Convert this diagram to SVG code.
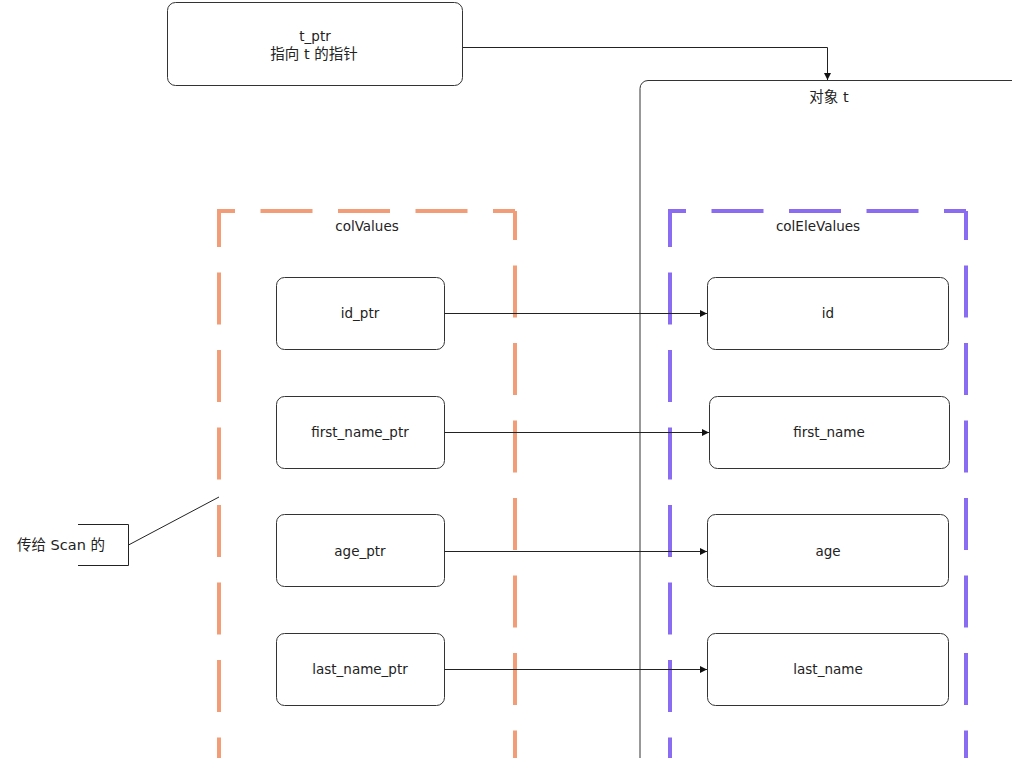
<svg xmlns="http://www.w3.org/2000/svg" width="1012" height="758" viewBox="0 0 1012 758">
<style>
text{font-family:"DejaVu Sans","Noto Sans CJK SC",sans-serif;font-size:13.5px;fill:#222;text-anchor:middle;dominant-baseline:central}
.cjk{font-size:14.5px}
.box{fill:#fff;stroke:#333;stroke-width:1}
.ln{fill:none;stroke:#222;stroke-width:1}
.or{fill:none;stroke:#F29D78;stroke-width:4;stroke-dasharray:52 25.5}
.pu{fill:none;stroke:#8A6CF2;stroke-width:4;stroke-dasharray:52 25.5}
</style>
<defs>
<marker id="ah" viewBox="0 0 10 10" refX="10" refY="5" markerWidth="7" markerHeight="7" markerUnits="userSpaceOnUse" orient="auto"><path d="M0,0 L10,5 L0,10 z" fill="#111"/></marker>
</defs>
<rect width="1012" height="758" fill="#fff"/>
<g id="object_t">
<rect class="box" x="640" y="80.5" width="400" height="720" rx="8"/>
<text x="829" y="97" class="cjk">对象 t</text>
</g>
<g id="colValues">
<path class="or" d="M217,211 H515" style="stroke-dashoffset:34"/>
<path class="or" d="M219,211 V800" style="stroke-dashoffset:16"/>
<path class="or" d="M515,211 V800" style="stroke-dashoffset:23"/>
<text x="367" y="226">colValues</text>
</g>
<g id="colEleValues">
<path class="pu" d="M668,211 H966" style="stroke-dashoffset:34"/>
<path class="pu" d="M670,211 V800" style="stroke-dashoffset:16"/>
<path class="pu" d="M966,211 V800" style="stroke-dashoffset:23"/>
<text x="818" y="226">colEleValues</text>
</g>
<g id="t_ptr">
<rect class="box" x="167.5" y="2.5" width="295" height="83" rx="8"/>
<text x="315" y="36">t_ptr</text>
<text x="314" y="54" class="cjk">指向 t 的指针</text>
</g>
<g id="id_ptr"><rect class="box" x="276.5" y="277.5" width="168" height="72" rx="8"/><text x="360" y="313">id_ptr</text></g>
<g id="first_name_ptr"><rect class="box" x="276.5" y="396.5" width="168" height="72" rx="8"/><text x="360" y="432">first_name_ptr</text></g>
<g id="age_ptr"><rect class="box" x="276.5" y="514.5" width="168" height="72" rx="8"/><text x="360" y="551">age_ptr</text></g>
<g id="last_name_ptr"><rect class="box" x="276.5" y="633.5" width="168" height="72" rx="8"/><text x="360" y="669">last_name_ptr</text></g>
<g id="id"><rect class="box" x="707.5" y="277.5" width="241" height="72" rx="8"/><text x="828" y="313">id</text></g>
<g id="first_name"><rect class="box" x="709.5" y="396.5" width="240" height="72" rx="8"/><text x="829" y="432">first_name</text></g>
<g id="age"><rect class="box" x="707.5" y="514.5" width="241" height="72" rx="8"/><text x="828" y="551">age</text></g>
<g id="last_name"><rect class="box" x="707.5" y="633.5" width="241" height="72" rx="8"/><text x="828" y="669">last_name</text></g>
<g id="note">
<path class="ln" d="M78,524.5 H128.5 V565.5 H78" stroke="#555"/>
<text x="61" y="545" class="cjk">传给 Scan 的</text>
</g>
<g id="connectors">
<path class="ln" d="M463,47.5 H827.5 V80" marker-end="url(#ah)"/>
<path class="ln" d="M444.5,313.5 H707" marker-end="url(#ah)"/>
<path class="ln" d="M444.5,432.5 H709" marker-end="url(#ah)"/>
<path class="ln" d="M444.5,551.5 H707" marker-end="url(#ah)"/>
<path class="ln" d="M444.5,669.5 H707" marker-end="url(#ah)"/>
<path class="ln" d="M128.5,545 L219,497" stroke="#444"/>
</g>
</svg>
